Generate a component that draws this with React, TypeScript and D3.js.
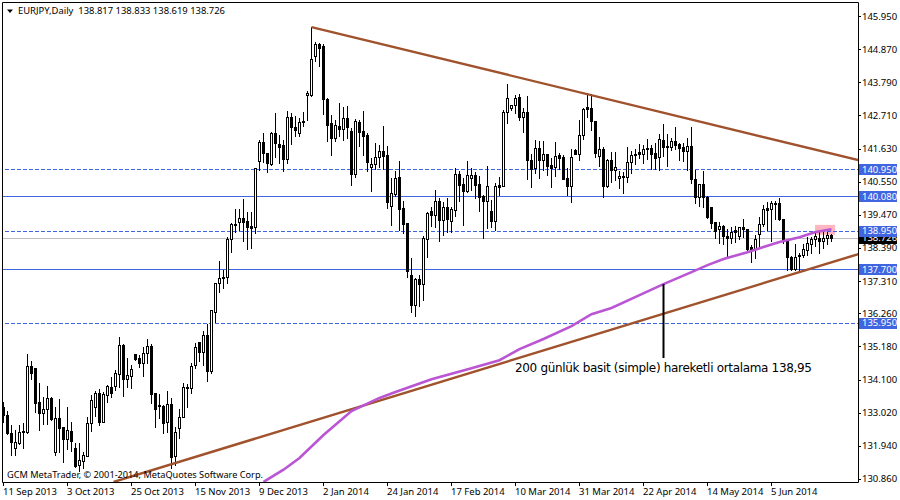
import React from "react";
import * as d3 from "d3";

const highs = [133.37,133.07,132.62,132.45,132.62,132.68,134.93,134.70,134.47,133.98,133.53,133.89,133.53,133.20,133.46,132.55,133.20,132.71,132.03,132.03,131.74,132.88,133.59,133.72,133.79,133.69,133.92,134.18,134.41,135.48,135.26,134.80,134.57,134.93,134.90,135.16,135.42,135.26,133.66,133.63,133.27,133.72,133.50,132.55,133.14,133.98,133.95,134.64,135.29,135.32,135.68,135.91,136.36,137.24,137.96,137.67,138.74,139.20,139.66,139.66,139.98,139.56,139.56,140.99,141.91,142.13,141.48,142.17,142.79,142.07,141.91,142.85,142.79,142.69,142.62,142.82,143.50,145.59,145.10,145.07,145.04,143.28,142.72,142.56,143.11,142.98,143.01,142.30,142.59,142.56,142.85,142.13,141.32,141.81,141.74,142.36,141.71,140.67,140.90,141.22,139.92,139.20,138.06,137.41,137.50,138.78,139.56,139.72,140.28,140.02,139.89,140.02,139.72,140.99,140.90,140.67,141.22,140.99,140.86,140.73,140.11,141.06,139.95,140.50,140.70,142.88,143.73,143.05,143.37,143.41,142.95,143.34,141.45,141.91,141.87,141.87,141.45,141.32,141.84,141.48,141.42,140.99,141.61,141.61,142.56,142.95,143.44,143.41,142.53,142.00,141.68,141.29,141.51,141.51,140.90,140.86,141.68,141.55,141.61,141.78,141.74,141.94,141.74,141.81,142.10,142.43,142.10,141.97,142.33,141.81,141.81,141.97,142.33,140.93,140.47,140.90,140.08,139.72,139.23,139.23,139.14,139.00,139.07,139.10,139.07,139.33,139.00,138.48,138.81,139.40,139.79,139.89,139.92,139.92,140.02,139.33,138.61,138.12,138.52,138.22,138.52,138.74,138.74,138.91,138.91,138.91,138.91,138.833];
const lows = [132.71,132.32,131.64,131.64,132.00,131.87,132.36,134.11,133.04,132.45,132.65,132.65,132.78,131.64,131.74,131.41,131.83,131.77,131.25,131.12,131.21,131.61,132.42,132.91,132.62,132.71,133.37,133.53,133.76,133.85,133.56,133.85,133.82,134.73,134.51,134.21,134.64,133.33,132.55,132.84,132.36,132.39,131.21,131.31,132.19,132.88,133.20,133.66,134.47,134.70,134.57,134.05,134.31,135.97,136.95,137.08,137.24,138.25,138.91,138.97,138.61,138.35,138.38,138.87,140.93,141.19,140.86,141.09,141.35,141.16,140.90,141.16,141.78,142.04,142.04,142.36,142.56,143.34,144.48,144.32,142.75,141.87,141.42,141.87,142.04,141.91,141.97,140.44,140.70,141.71,141.42,140.90,140.24,140.96,141.03,140.96,139.69,139.14,140.08,138.97,138.87,137.44,136.30,136.17,136.49,136.69,138.09,139.10,139.07,138.61,138.81,138.91,138.91,139.43,139.92,139.14,140.21,140.28,140.02,139.59,138.71,139.04,139.07,138.97,140.11,140.41,142.46,142.88,142.79,142.56,142.17,140.63,140.37,140.83,140.67,140.93,140.77,140.37,140.73,140.96,140.63,140.11,139.89,141.45,141.25,141.94,142.66,142.23,141.35,141.06,140.05,140.37,140.54,140.60,140.34,140.18,140.54,140.83,141.12,141.32,141.16,141.29,140.96,140.96,140.93,141.38,141.06,141.58,141.61,141.25,141.22,140.93,140.50,139.85,139.75,139.72,139.36,139.04,138.71,138.55,138.52,138.09,138.55,138.58,138.68,138.74,138.32,137.93,138.06,138.45,139.10,138.97,138.61,139.33,139.30,138.55,137.67,137.67,137.67,137.67,138.09,138.16,138.22,138.45,138.22,138.38,138.52,138.619];
const opens = [133.20,132.94,132.36,131.87,132.03,132.39,132.39,134.54,134.47,133.37,133.00,133.14,133.50,131.74,132.84,132.55,132.16,132.42,131.87,131.31,131.44,131.61,132.68,133.20,133.66,132.71,133.59,133.85,133.89,134.28,135.22,134.11,134.21,134.93,134.80,134.64,134.96,135.19,133.66,133.27,133.23,132.71,133.30,131.61,132.52,132.88,133.85,133.82,134.57,135.32,135.00,135.55,134.38,136.30,137.24,137.44,137.44,138.68,139.14,139.23,139.36,139.27,139.10,139.07,141.22,141.84,141.48,141.12,142.13,141.78,141.74,141.29,142.66,142.33,142.13,142.49,143.37,143.37,144.64,145.04,144.97,143.24,142.46,141.97,142.36,142.26,142.62,142.20,140.80,142.49,142.20,142.07,141.03,141.12,141.35,141.55,141.42,139.75,140.15,140.70,139.69,139.20,137.50,136.53,137.37,137.21,138.68,139.59,139.46,139.92,139.30,139.72,139.27,139.62,140.80,140.47,140.24,140.67,140.77,140.47,140.08,139.92,139.59,139.27,140.44,140.41,142.82,142.95,143.05,143.31,142.66,142.82,141.25,140.99,141.65,141.25,141.45,141.09,141.03,141.42,141.35,140.67,140.41,141.58,141.45,142.07,142.98,142.95,142.53,141.38,141.61,140.41,141.25,140.93,140.67,140.70,140.70,141.19,141.42,141.51,141.45,141.65,141.65,141.48,141.35,141.91,141.68,141.68,141.87,141.78,141.68,141.55,141.71,140.63,140.05,140.47,140.05,139.72,139.23,139.00,139.10,138.78,138.71,138.97,138.78,139.07,139.00,138.42,138.35,138.84,139.17,139.69,139.66,139.85,139.85,139.33,138.61,138.09,137.70,138.12,138.16,138.32,138.52,138.68,138.71,138.61,138.71,138.817];
const closes = [132.94,132.36,132.06,132.06,132.39,132.42,134.54,134.31,133.33,133.00,133.14,133.50,132.81,132.84,132.52,132.16,132.45,132.09,131.28,131.47,131.64,132.68,133.43,133.66,132.71,133.63,133.89,133.66,134.31,135.22,134.11,134.25,134.44,134.77,134.64,134.96,135.19,133.63,133.14,133.23,132.68,133.30,131.57,132.39,132.88,133.85,133.82,134.54,135.16,135.00,135.55,134.38,136.36,137.24,137.41,137.41,138.68,139.17,139.17,139.36,139.23,139.07,139.04,140.99,141.84,141.48,141.16,142.13,141.81,141.68,141.29,142.66,142.33,142.23,142.49,142.53,143.44,144.55,145.04,144.90,143.24,142.39,141.97,142.39,142.26,142.62,142.33,140.80,142.53,142.17,142.04,141.19,141.12,141.35,141.55,141.38,139.89,140.18,140.67,139.66,139.17,137.63,136.53,137.37,137.21,138.71,139.53,139.46,139.92,139.30,139.72,139.33,139.66,140.80,140.44,140.24,140.77,140.77,140.44,140.05,139.92,140.41,139.27,140.41,140.37,142.82,143.28,143.05,143.28,142.66,142.82,141.25,140.96,141.65,141.25,141.45,141.06,140.99,141.38,141.32,140.63,140.41,141.35,141.45,142.07,142.92,142.92,142.53,141.48,141.61,140.41,141.25,140.93,141.03,140.73,140.73,141.19,141.42,141.45,141.45,141.61,141.61,141.45,141.32,141.94,141.68,141.71,141.87,141.74,141.65,141.55,141.71,140.63,140.05,140.47,140.05,139.40,139.20,138.94,139.10,138.78,138.71,138.91,138.91,139.07,139.00,138.35,138.35,138.68,139.17,139.66,139.62,139.85,139.82,139.33,138.68,138.09,137.70,138.09,138.16,138.35,138.55,138.68,138.78,138.61,138.71,138.81,138.726];

const maBars = [65,70,74,80,87,94,98,107,117,124,129,135,142,147,152,159,165,172,176,180,186,190,194,199,203,207];
const maValues = [130.76,131.16,131.54,132.29,133.07,133.50,133.69,134.11,134.47,134.73,135.09,135.42,135.84,136.23,136.43,136.85,137.21,137.60,137.83,138.03,138.25,138.42,138.58,138.74,138.91,139.00];

const upperTrendBars = [77, 213.75];
const upperTrendPrices = [145.59, 141.25];
const lowerTrendBars = [27.5, 213.75];
const lowerTrendPrices = [130.76, 138.19];

const dashedLevels = [140.95, 138.95, 135.95];
const solidLevels = [140.08, 137.7];
const levelLabels = [140.95, 140.08, 138.95, 137.7, 135.95];
const lastPrice = 138.726;

const priceTicks = [145.95,144.87,143.79,142.71,141.63,140.55,139.47,138.39,137.31,136.26,135.18,134.1,133.02,131.94,130.86];
const dateLabels = ["11 Sep 2013","3 Oct 2013","25 Oct 2013","15 Nov 2013","9 Dec 2013","2 Jan 2014","24 Jan 2014","17 Feb 2014","10 Mar 2014","31 Mar 2014","22 Apr 2014","14 May 2014","5 Jun 2014"];
const dateEvery = 16;

const annotationBar = 165;
const annotationTop = 137.21;
const annotationBottom = 134.8;
const maHighlightBars = [203, 208];
const maHighlightPrices = [139.14, 138.82];

const headerText = "EURJPY,Daily  138.817 138.833 138.619 138.726";
const copyrightText = "GCM MetaTrader, \u00A9 2001-2014, MetaQuotes Software Corp.";
const annotationText = "200 g\u00FCnl\u00FCk basit (simple) hareketli ortalama 138,95";

const FONT = "'Noto Sans', sans-serif";
const BLUE = "#3F66E0";
const BROWN = "#A0522D";
const PURPLE = "#BA55D3";
const AXIS_FONT = 9.5;

const plot = { left: 2, right: 858, top: 2, bottom: 482 };

export default function App() {
  const x = d3.scaleLinear().domain([0, 213.75]).range([3.5, 858.5]);
  const y = d3.scaleLinear().domain([145.95, 130.86]).range([16, 478.9]);
  const row = (p: number) => Math.round(y(p));
  const line = d3.line<[number, number]>().x((d) => x(d[0])).y((d) => y(d[1]));
  const maPath = line(maBars.map((b, i) => [b, maValues[i]] as [number, number])) ?? "";
  const upperPath = line(upperTrendBars.map((b, i) => [b, upperTrendPrices[i]] as [number, number])) ?? "";
  const lowerPath = line(lowerTrendBars.map((b, i) => [b, lowerTrendPrices[i]] as [number, number])) ?? "";

  return (
    <svg
      width={900}
      height={500}
      style={{ position: "fixed", left: 0, top: 0, background: "#fff" }}
      fontFamily={FONT}
    >
      <defs>
        <clipPath id="plotClip">
          <rect x={plot.left} y={plot.top} width={plot.right - plot.left} height={plot.bottom - plot.top} />
        </clipPath>
      </defs>

      <g clipPath="url(#plotClip)">
        <rect
          x={x(maHighlightBars[0]) - 0.5}
          y={y(maHighlightPrices[0])}
          width={x(maHighlightBars[1]) - x(maHighlightBars[0])}
          height={y(maHighlightPrices[1]) - y(maHighlightPrices[0])}
          fill="#FFB6C1"
        />
        <g shapeRendering="crispEdges">
          <line x1={plot.left} x2={plot.right} y1={row(lastPrice) + 0.5} y2={row(lastPrice) + 0.5} stroke="#C0C0C0" strokeWidth={1} />
          {solidLevels.map((l) => (
            <line key={l} x1={plot.left} x2={plot.right} y1={row(l) + 0.5} y2={row(l) + 0.5} stroke={BLUE} strokeWidth={1} />
          ))}
          {dashedLevels.map((l) => (
            <line key={l} x1={plot.left + 3} x2={plot.right} y1={row(l) + 0.5} y2={row(l) + 0.5} stroke={BLUE} strokeWidth={1} strokeDasharray="4 2" />
          ))}
        </g>

        {opens.map((o, i) => {
          const c = closes[i];
          const cx = x(i);
          const top = row(Math.max(o, c));
          const bottom = row(Math.min(o, c));
          const up = c >= o;
          return (
            <g key={i} shapeRendering="crispEdges">
              <line x1={cx} x2={cx} y1={row(highs[i])} y2={row(lows[i]) + 1} stroke="#000" />
              {up ? (
                <rect x={cx - 1} y={top + 0.5} width={2} height={Math.max(bottom - top, 1)} fill="#fff" stroke="#000" />
              ) : (
                <rect x={cx - 1.5} y={top} width={3} height={Math.max(bottom - top + 1, 2)} fill="#000" />
              )}
            </g>
          );
        })}

        <path d={upperPath} fill="none" stroke={BROWN} strokeWidth={2.4} />
        <path d={lowerPath} fill="none" stroke={BROWN} strokeWidth={2.4} />
        <path d={maPath} fill="none" stroke={PURPLE} strokeWidth={2.6} />
        <line
          x1={x(annotationBar)}
          x2={x(annotationBar)}
          y1={y(annotationTop)}
          y2={y(annotationBottom)}
          stroke="#000"
          strokeWidth={2}
        />
      </g>

      <path d={`M${plot.left + 0.5} ${plot.bottom + 0.5}V${plot.top + 0.5}H${plot.right + 0.5}V${plot.bottom + 0.5}H${plot.left + 0.5}`} fill="none" stroke="#000" strokeWidth={1} />

      {priceTicks.map((t) => (
        <g key={t}>
          <line x1={plot.right} x2={plot.right + 3} y1={row(t) + 0.5} y2={row(t) + 0.5} stroke="#000" />
          <text x={862} y={y(t) + 3.5} fontSize={AXIS_FONT} fill="#000">{t.toFixed(3)}</text>
        </g>
      ))}

      <rect x={859} y={row(lastPrice) - 5} width={38} height={11} fill="#000" />
      <text x={862} y={y(lastPrice) + 3.5} fontSize={AXIS_FONT} fill="#fff">{lastPrice.toFixed(3)}</text>

      {levelLabels.map((l) => (
        <g key={l}>
          <rect x={859} y={row(l) - 5} width={38} height={11} fill={BLUE} />
          <text x={862} y={y(l) + 3.5} fontSize={AXIS_FONT} fill="#fff">{l.toFixed(3)}</text>
        </g>
      ))}

      {dateLabels.map((d, i) => (
        <g key={d}>
          <line x1={x(i * dateEvery)} x2={x(i * dateEvery)} y1={plot.bottom} y2={plot.bottom + 4} stroke="#000" shapeRendering="crispEdges" />
          <text x={x(i * dateEvery) - 0.5} y={495} fontSize={AXIS_FONT} fill="#000">{d}</text>
        </g>
      ))}

      <path d="M7 9.5H13L10 13Z" fill="#000" />
      <text x={18} y={14} fontSize={9.5} fill="#000" xmlSpace="preserve" textLength={207} lengthAdjust="spacingAndGlyphs">{headerText}</text>
      <text x={7} y={478} fontSize={9.5} fill="#000" textLength={256} lengthAdjust="spacingAndGlyphs">{copyrightText}</text>
      <text x={515} y={372} fontSize={12} fill="#000" fontFamily="'DejaVu Sans', sans-serif" textLength={297}>{annotationText}</text>
    </svg>
  );
}
